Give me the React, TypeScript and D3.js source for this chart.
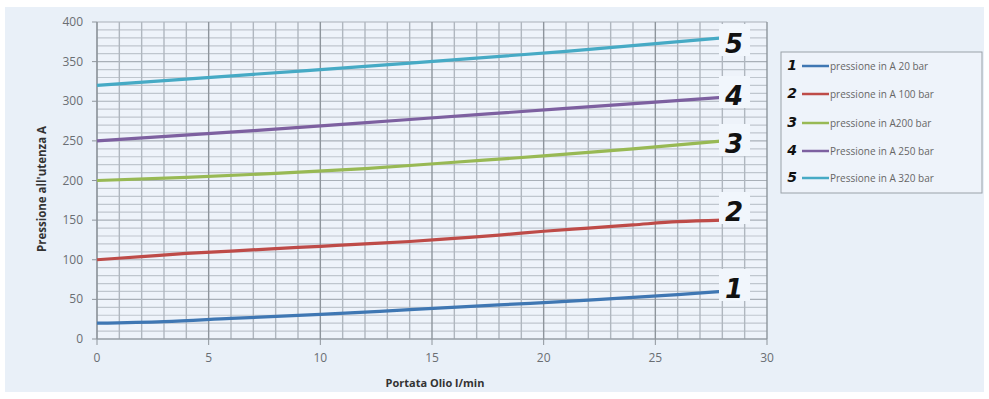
import React from "react";
import * as d3 from "d3";

const xTicks = [0, 5, 10, 15, 20, 25, 30];
const yTicks = [0, 50, 100, 150, 200, 250, 300, 350, 400];

const s1x = [0, 3, 6, 10, 14, 18, 22, 26, 28];
const s1y = [20, 22, 26, 31, 37, 43, 49, 56, 60];
const s2x = [0, 2, 4, 6, 8, 10, 12, 14, 16, 18, 20, 22, 24, 26, 28];
const s2y = [100, 104, 108, 111, 114, 117, 120, 123, 127, 131, 136, 140, 144, 148, 150];
const s3x = [0, 4, 8, 12, 16, 20, 24, 28];
const s3y = [200, 204, 209, 215, 223, 231, 240, 250];
const s4x = [0, 7, 14, 21, 28];
const s4y = [250, 263, 277, 291, 305];
const s5x = [0, 7, 14, 21, 28];
const s5y = [320, 334, 348, 363, 380];

const seriesNames = [
  "pressione in A 20 bar",
  "pressione in A 100 bar",
  "pressione in A200 bar",
  "Pressione in A 250 bar",
  "Pressione in A 320 bar",
];
const seriesLabels = ["1", "2", "3", "4", "5"];
const colors = ["#3F77B3", "#BE4B48", "#98B954", "#7D60A0", "#46AAC5"];
const xs = [s1x, s2x, s3x, s4x, s5x];
const ys = [s1y, s2y, s3y, s4y, s5y];

export default function App() {
  const W = 989, H = 399;
  const x = d3.scaleLinear().domain([0, 30]).range([97, 767]);
  const y = d3.scaleLinear().domain([0, 400]).range([339, 22]);
  const line = d3.line<[number, number]>().x(d => x(d[0])).y(d => y(d[1])).curve(d3.curveMonotoneX);
  const minorX = d3.range(0, 31, 1);
  const minorY = d3.range(0, 401, 10);
  const legendY = [65, 93, 122, 150, 177];
  const labelPosY = [290, 213, 145, 97, 45];
  return (
    <svg width={W} height={H} style={{ position: "absolute", left: 0, top: 0, fontFamily: "'Open Sans', sans-serif" }}>
      <rect x={0} y={0} width={W} height={H} fill="#ffffff" />
      <rect x={5} y={7} width={979} height={385} fill="#E9F0F8" />
      <rect x={x(0)} y={y(400)} width={x(30) - x(0)} height={y(0) - y(400)} fill="#EEF3FA" />
      {minorY.map(v => (
        <line key={"hy" + v} x1={x(0)} x2={x(30)} y1={y(v)} y2={y(v)} stroke={v % 50 === 0 ? "#A9B0B8" : "#BFC6CE"} strokeWidth={1.2} />
      ))}
      {minorX.map(v => (
        <line key={"vx" + v} x1={x(v)} x2={x(v)} y1={y(0)} y2={y(400)} stroke={v % 5 === 0 ? "#8E959C" : "#B0B7BF"} strokeWidth={1.4} />
      ))}
      <line x1={x(0)} x2={x(30)} y1={y(0)} y2={y(0)} stroke="#8E959C" />
      <line x1={x(0)} x2={x(0)} y1={y(0)} y2={y(400)} stroke="#8E959C" />
      {xTicks.map(v => (
        <g key={"xt" + v}>
          <line x1={x(v)} x2={x(v)} y1={y(0)} y2={y(0) + 6} stroke="#8E959C" />
          <text x={x(v)} y={y(0) + 23} textAnchor="middle" fontSize={12} fill="#6A6E73">{v}</text>
        </g>
      ))}
      {yTicks.map(v => (
        <g key={"yt" + v}>
          <line x1={x(0) - 5} x2={x(0)} y1={y(v)} y2={y(v)} stroke="#8E959C" />
          <text x={83} y={y(v) + 4} textAnchor="end" fontSize={12} fill="#6A6E73">{v}</text>
        </g>
      ))}
      <text x={435} y={387} textAnchor="middle" fontSize={11} fontWeight="bold" fill="#333">Portata Olio l/min</text>
      <text transform={`translate(46,189) rotate(-90)`} textAnchor="middle" fontSize={11.5} fontWeight="bold" fill="#333">Pressione all'utenza A</text>
      {xs.map((sx, i) => {
        const pts = sx.map((v, j) => [v, ys[i][j]] as [number, number]);
        return <path key={"s" + i} d={line(pts) || ""} fill="none" stroke={colors[i]} strokeWidth={3.2} />;
      })}
      {seriesLabels.map((lab, i) => (
        <g key={"lab" + i}>
          <rect x={719} y={labelPosY[i] - 21} width={31} height={32} fill="#F1F6FC" />
          <text x={734} y={labelPosY[i] + 8} textAnchor="middle" fontSize={26} fontWeight="bold" fontStyle="italic" fill="#111" fontFamily="'DejaVu Sans', sans-serif">{lab}</text>
        </g>
      ))}
      <rect x={781} y={52} width={201} height={141} fill="#EEF3FA" stroke="#9AA1A8" strokeWidth={1} />
      {seriesNames.map((nm, i) => (
        <g key={"lg" + i}>
          <text x={792} y={legendY[i] + 5} textAnchor="middle" fontSize={14} fontWeight="bold" fontStyle="italic" fill="#111" fontFamily="'DejaVu Sans', sans-serif">{seriesLabels[i]}</text>
          <line x1={802} x2={829} y1={legendY[i] + 1} y2={legendY[i] + 1} stroke={colors[i]} strokeWidth={2.5} />
          <text x={830} y={legendY[i] + 5} fontSize={10} fill="#666">{nm}</text>
        </g>
      ))}
    </svg>
  );
}
